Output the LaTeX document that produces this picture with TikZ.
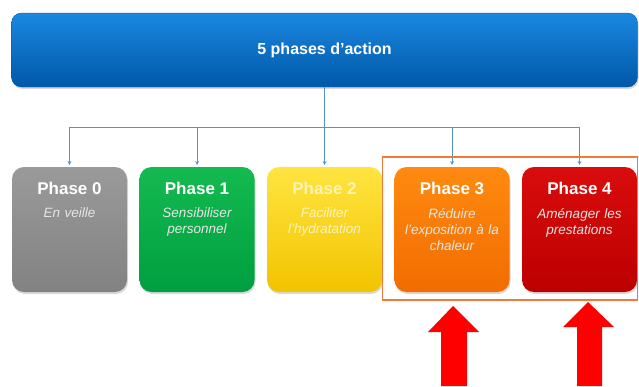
\documentclass[tikz,border=0pt]{standalone}
\usepackage{fontspec}
\setmainfont{Liberation Sans}
\usetikzlibrary{shapes.geometric, arrows, positioning, shadows}
\definecolor{blueTop}{HTML}{1A88E0}
\definecolor{blueBot}{HTML}{0058A8}
\definecolor{grayTop}{HTML}{9A9A9A}
\definecolor{grayBot}{HTML}{828282}
\definecolor{greenTop}{HTML}{14BA50}
\definecolor{greenBot}{HTML}{009E40}
\definecolor{yellowTop}{HTML}{FFE440}
\definecolor{yellowBot}{HTML}{F2C400}
\definecolor{orangeTop}{HTML}{FF8A10}
\definecolor{orangeBot}{HTML}{F26C00}
\definecolor{redTop}{HTML}{D90C0C}
\definecolor{redBot}{HTML}{BC0000}
\definecolor{connBlue}{HTML}{4F93D6}
\definecolor{frameOrange}{HTML}{F07A3A}
\definecolor{descGray}{HTML}{E6E6E6}
\definecolor{paleYellow}{HTML}{FFF4B8}
\tikzstyle{topbox} = [rectangle, rounded corners=10pt, minimum width=626pt, minimum height=74pt, top color=blueTop, bottom color=blueBot, draw=blueBot, text=white, font=\fontsize{16}{16}\selectfont\bfseries, drop shadow={shadow xshift=1pt, shadow yshift=-2pt, opacity=0.3}]
\tikzstyle{phase} = [rectangle, rounded corners=12pt, minimum width=115pt, minimum height=125pt, outer sep=0pt, drop shadow={shadow xshift=1pt, shadow yshift=-2pt, opacity=0.3}]
\tikzstyle{title} = [inner sep=0pt, text=white, font=\fontsize{17}{17}\selectfont\bfseries]
\tikzstyle{desc} = [inner sep=0pt, text=descGray, align=center, text width=112pt, font=\fontsize{13.5}{16}\selectfont\itshape]
\tikzstyle{conn} = [draw=connBlue, line width=0.8pt, ->, >=stealth, shorten >=2pt]
\tikzstyle{frame} = [draw=frameOrange, line width=1.6pt]
\tikzstyle{uparrow} = [fill=red]

\begin{document}
\begin{tikzpicture}[x=1pt, y=1pt]
\useasboundingbox (0,0) rectangle (639,-386);

\node (top) [topbox] at (324.5,-50) {5 phases d’action};

\node (p0) [phase, top color=grayTop, bottom color=grayBot] at (69.5,-229.5) {};
\node (p1) [phase, top color=greenTop, bottom color=greenBot, right=12.5pt of p0] {};
\node (p2) [phase, top color=yellowTop, bottom color=yellowBot, right=12.5pt of p1] {};
\node (p3) [phase, top color=orangeTop, bottom color=orangeBot, right=12.5pt of p2] {};
\node (p4) [phase, top color=redTop, bottom color=redBot, right=12.5pt of p3] {};

\node (t0) [title, below=15pt of p0.north] {Phase 0};
\node (t1) [title, below=15pt of p1.north] {Phase 1};
\node (t2) [title, text=paleYellow, below=15pt of p2.north] {Phase 2};
\node (t3) [title, below=15pt of p3.north] {Phase 3};
\node (t4) [title, below=15pt of p4.north] {Phase 4};

\node (d0) [desc, below=13pt of t0] {En veille};
\node (d1) [desc, below=13pt of t1] {Sensibiliser\\personnel};
\node (d2) [desc, text=paleYellow, below=13pt of t2] {Faciliter\\l’hydratation};
\node (d3) [desc, below=13pt of t3] {Réduire\\l’exposition à la\\chaleur};
\node (d4) [desc, below=13pt of t4] {Aménager les\\prestations};

\coordinate (bus) at ([yshift=-40pt]top.south);
\draw [conn] (p2.north |- top.south) -- (p2.north);
\draw [conn] (bus) -| (p0.north);
\draw [conn] (bus) -| (p1.north);
\draw [conn] (bus) -| (p3.north);
\draw [conn] (bus) -| (p4.north);

\draw [frame] ([xshift=-12pt, yshift=10pt]p3.north west) rectangle ([xshift=0.5pt, yshift=-8pt]p4.south east);

\fill [uparrow] (453,-306) -- (479,-332) -- (467,-332) -- (467,-386) -- (441,-386) -- (441,-332) -- (428,-332) -- cycle;
\fill [uparrow] (588,-302) -- (614,-327) -- (602,-327) -- (602,-386) -- (577,-386) -- (577,-327) -- (563,-327) -- cycle;

\end{tikzpicture}
\end{document}
